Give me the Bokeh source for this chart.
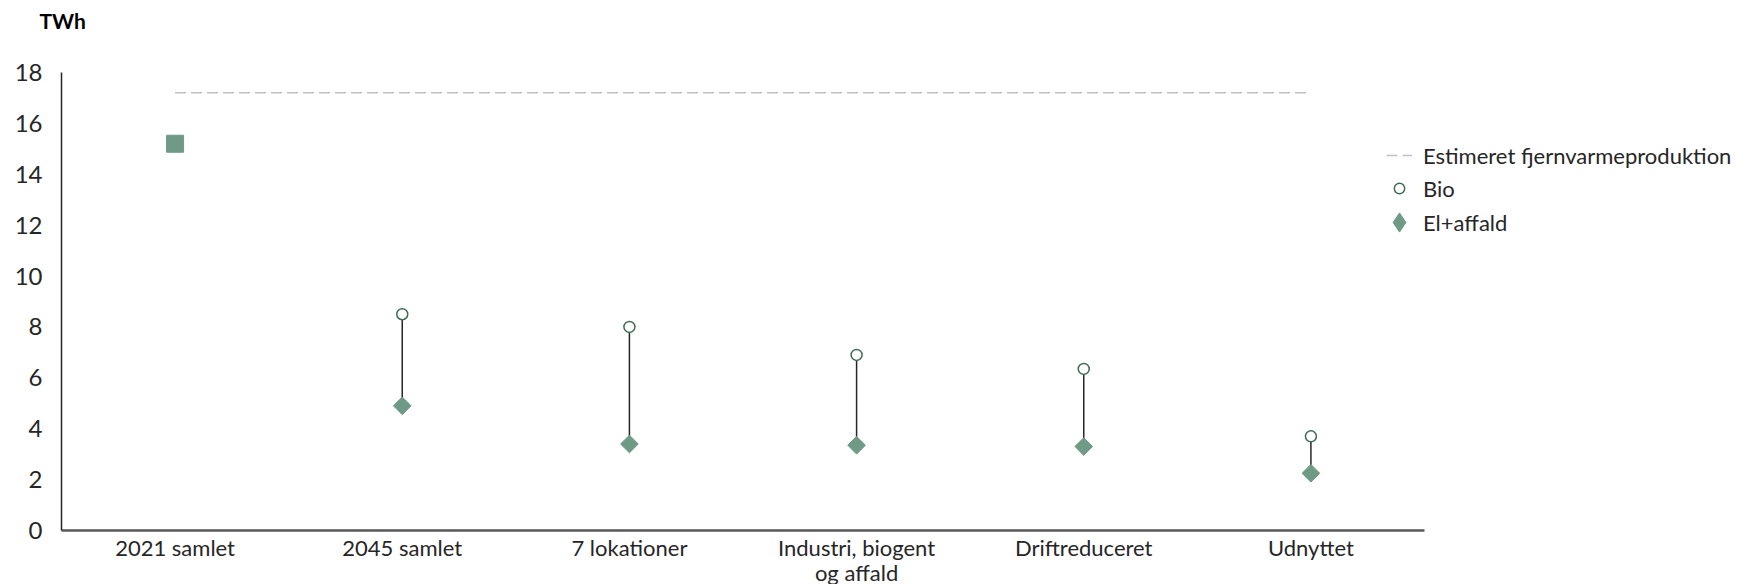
import numpy as np
from bokeh.plotting import figure
from bokeh.models import Range1d, ColumnDataSource, Label, Legend, LegendItem, FixedTicker
from bokeh.embed import file_html
from bokeh.resources import INLINE

categories = ["2021 samlet", "2045 samlet", "7 lokationer", "Industri, biogent\nog affald", "Driftreduceret", "Udnyttet"]
estimeret = [17.2, 17.2, 17.2, 17.2, 17.2, 17.2]
samlet_2021 = [15.2]
bio = [8.5, 8.0, 6.9, 6.35, 3.7]
el_affald = [4.9, 3.4, 3.35, 3.3, 2.25]
ticks = [0, 2, 4, 6, 8, 10, 12, 14, 16, 18]

FONT = "Lato"
GREEN = "#6E9A86"
DARK_GREEN = "#3D6B55"
TXT = "#262626"

# ---- layout (pixels inside the figure) ----
W, H = 1750, 584
AX_LEFT, AX_RIGHT = 61, 1424      # x-axis extent
AX_TOP, AX_BOTTOM = 72, 530       # y-axis extent (value 18 .. 0)
n = len(categories)
ymax = ticks[-1]
px_x = (AX_RIGHT - AX_LEFT) / n
px_y = (AX_BOTTOM - AX_TOP) / ymax
x_range = Range1d(-AX_LEFT / px_x, (W - AX_LEFT) / px_x)
y_range = Range1d(-(H - AX_BOTTOM) / px_y, ymax + AX_TOP / px_y)

p = figure(x_range=x_range, y_range=y_range, width=W, height=H,
           output_backend="svg", toolbar_location=None,
           min_border_left=0, min_border_right=0, min_border_top=0, min_border_bottom=0)
p.outline_line_color = None
p.xgrid.grid_line_color = None
p.ygrid.grid_line_color = None
p.background_fill_color = "white"
p.border_fill_color = "white"

xpos = [i + 0.5 for i in range(n)]

# axes
p.yaxis.fixed_location = 0
p.yaxis.bounds = (0, ymax)
p.yaxis.ticker = FixedTicker(ticks=ticks)
p.yaxis.major_tick_line_color = None
p.yaxis.minor_tick_line_color = None
p.yaxis.major_tick_out = 0
p.yaxis.major_tick_in = 0
p.yaxis.major_label_standoff = 19
p.yaxis.major_label_text_font = FONT
p.yaxis.major_label_text_font_size = "24px"
p.yaxis.major_label_text_color = TXT
p.yaxis.axis_line_color = "#262626"
p.yaxis.axis_line_width = 1.5

p.xaxis.fixed_location = 0
p.xaxis.bounds = (0, n)
p.xaxis.ticker = FixedTicker(ticks=xpos)
p.xaxis.major_label_overrides = {x: c for x, c in zip(xpos, categories)}
p.xaxis.major_tick_line_color = None
p.xaxis.minor_tick_line_color = None
p.xaxis.major_tick_out = 0
p.xaxis.major_tick_in = 0
p.xaxis.major_label_standoff = 3
p.xaxis.major_label_text_font = FONT
p.xaxis.major_label_text_font_size = "22px"
p.xaxis.major_label_text_color = TXT
p.xaxis.major_label_text_line_height = 0.95
p.xaxis.axis_line_color = "#595959"
p.xaxis.axis_line_width = 2.5

# connectors
bio_x = xpos[1:]
seg_src = ColumnDataSource(dict(x=bio_x, y0=el_affald, y1=bio))
p.segment(x0="x", y0="y0", x1="x", y1="y1", source=seg_src, line_color="#262626", line_width=1.5)

# dashed estimate
r_est = p.line(x=xpos, y=estimeret, line_color="#BFBFBF", line_width=1.5, line_dash="11 5")

# 2021 square
p.scatter(x=xpos[:1], y=samlet_2021, marker="square", size=17, fill_color=GREEN, line_color=GREEN)

# bio circles
r_bio = p.scatter(x=bio_x, y=bio, marker="circle", size=11, fill_color="white",
                  line_color=DARK_GREEN, line_width=1.5)
# el+affald diamonds (rotated squares)
p.scatter(x=bio_x, y=el_affald, marker="square", size=12.5, angle=np.pi / 4,
          fill_color=GREEN, line_color=GREEN)
# legend proxy for el+affald (legend markers are never rotated)
r_el_leg = p.scatter(x=bio_x, y=el_affald, marker="diamond", fill_color=GREEN,
                     line_color=GREEN, visible=False)


def make_legend(label, renderer, loc, gw, gh, standoff):
    lg = Legend(items=[LegendItem(label=label, renderers=[renderer])], location=loc)
    lg.padding = 0
    lg.margin = 0
    lg.spacing = 0
    lg.glyph_width = gw
    lg.glyph_height = gh
    lg.label_height = gh
    lg.label_standoff = standoff
    lg.border_line_color = None
    lg.background_fill_alpha = 0
    lg.inactive_fill_alpha = 0
    lg.label_text_font = FONT
    lg.label_text_font_size = "22px"
    lg.label_text_color = TXT
    p.add_layout(lg, "center")


make_legend("Estimeret fjernvarmeproduktion", r_est, (1386, H - 172), 26, 34, 11)
make_legend("Bio", r_bio, (1386, H - 205), 26, 34, 11)
make_legend("El+affald", r_el_leg, (1375, H - 246), 48, 48, 0)

p.add_layout(Label(x=0, y=ymax, x_offset=-22, y_offset=52, text="TWh", text_font=FONT,
                   text_font_style="bold", text_font_size="21px", text_color="#000000",
                   text_baseline="middle"))

open("out.html", "w").write(file_html(p, INLINE))
